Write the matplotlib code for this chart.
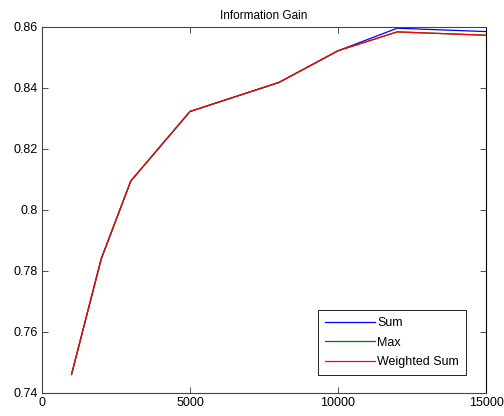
import matplotlib

matplotlib.use("Agg")
import matplotlib.pyplot as plt
from matplotlib.ticker import FuncFormatter

# training set size vs. information gain for three aggregation rules
sizes = [1000, 2000, 3000, 5000, 8000, 10000, 12000, 15000]
gain_sum = [0.7462, 0.7840, 0.8095, 0.8323, 0.8418, 0.8522, 0.8596, 0.8585]
gain_max = [0.7460, 0.7838, 0.8095, 0.8323, 0.8418, 0.8522, 0.8584, 0.8573]
gain_weighted = [0.7462, 0.7840, 0.8095, 0.8323, 0.8418, 0.8522, 0.8584, 0.8573]

plt.rcParams["font.family"] = ["Liberation Sans", "DejaVu Sans"]
plt.rcParams["font.size"] = 9

fig = plt.figure(figsize=(5.04, 4.16), dpi=100)
ax = fig.add_axes([0.0833, 0.0553, 0.8810, 0.8798])

ax.plot(sizes, gain_sum, color="#0000ff", linewidth=0.9, label="Sum")
ax.plot(sizes, gain_max, color="#008000", linewidth=0.9, label="Max")
ax.plot(sizes, gain_weighted, color="#ff0000", linewidth=0.9, label="Weighted Sum")

ax.set_xlim(0, 15000)
ax.set_ylim(0.74, 0.86)
ax.set_xticks([0, 5000, 10000, 15000])
ax.set_yticks([0.74, 0.76, 0.78, 0.80, 0.82, 0.84, 0.86])
ax.yaxis.set_major_formatter(FuncFormatter(lambda v, _: f"{v:.2f}".rstrip("0")))
ax.tick_params(direction="in", top=True, right=True, length=4, width=0.6,
               pad=3, colors="#333333", labelcolor="black")
for name, spine in ax.spines.items():
    spine.set_linewidth(0.8)
    spine.set_color("black" if name == "right" else "#444444")

ax.set_title("Information Gain", fontsize=8.5, pad=6)
leg = ax.legend(loc="lower right", bbox_to_anchor=(0.955, 0.049), borderaxespad=0,
                fancybox=False, framealpha=1, edgecolor="black", handlelength=4.0,
                handletextpad=0.2, borderpad=0.55, labelspacing=0.6)
leg.get_frame().set_linewidth(0.6)

fig.savefig("out.png")
